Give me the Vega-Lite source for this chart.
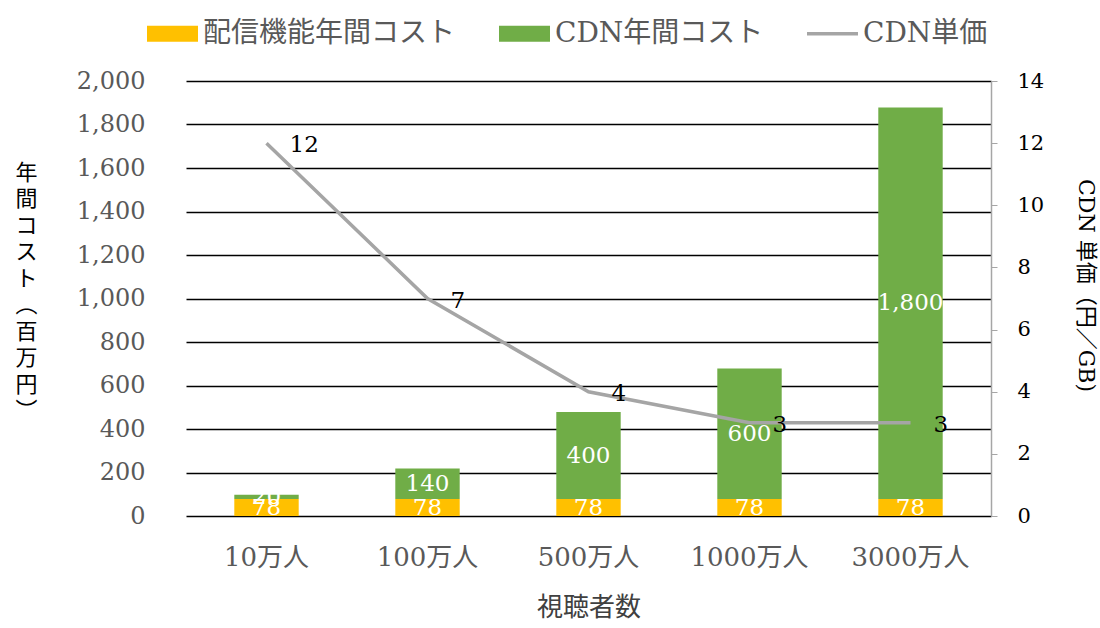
{
  "$schema": "https://vega.github.io/schema/vega-lite/v6.json",
  "autosize": "none",
  "width": 805,
  "height": 435,
  "padding": {"left": 186, "top": 81, "right": 109, "bottom": 112},
  "background": "white",
  "config": {
    "font": "DejaVu Serif, Noto Sans CJK JP",
    "view": {"stroke": null},
    "axis": {"labelFont": "DejaVu Serif, Noto Sans CJK JP", "titleFont": "DejaVu Serif, Noto Sans CJK JP", "titleFontWeight": "normal"},
    "legend": {"labelFont": "DejaVu Serif, Noto Sans CJK JP"}
  },
  "datasets": {
    "bars": [
      {"viewers": "10万人", "series": "配信機能年間コスト", "value": 78},
      {"viewers": "10万人", "series": "CDN年間コスト", "value": 20},
      {"viewers": "100万人", "series": "配信機能年間コスト", "value": 78},
      {"viewers": "100万人", "series": "CDN年間コスト", "value": 140},
      {"viewers": "500万人", "series": "配信機能年間コスト", "value": 78},
      {"viewers": "500万人", "series": "CDN年間コスト", "value": 400},
      {"viewers": "1000万人", "series": "配信機能年間コスト", "value": 78},
      {"viewers": "1000万人", "series": "CDN年間コスト", "value": 600},
      {"viewers": "3000万人", "series": "配信機能年間コスト", "value": 78},
      {"viewers": "3000万人", "series": "CDN年間コスト", "value": 1800}
    ],
    "price": [
      {"viewers": "10万人", "series": "CDN単価", "price": 12},
      {"viewers": "100万人", "series": "CDN単価", "price": 7},
      {"viewers": "500万人", "series": "CDN単価", "price": 4},
      {"viewers": "1000万人", "series": "CDN単価", "price": 3},
      {"viewers": "3000万人", "series": "CDN単価", "price": 3}
    ]
  },
  "encoding": {
    "x": {
      "field": "viewers",
      "type": "nominal",
      "sort": ["10万人", "100万人", "500万人", "1000万人", "3000万人"],
      "scale": {"paddingInner": 0.6, "paddingOuter": 0.3},
      "axis": {
        "title": "視聴者数",
        "labelAngle": 0,
        "labelFontSize": 26,
        "labelColor": "#595959",
        "labelPadding": 28,
        "ticks": false,
        "domain": false,
        "titleFontSize": 26,
        "titleColor": "#404040",
        "titlePadding": 24
      }
    }
  },
  "layer": [
    {
      "data": {"name": "bars"},
      "layer": [
        {
          "mark": {"type": "bar"},
          "encoding": {
            "y": {
              "field": "value",
              "type": "quantitative",
              "stack": "zero",
              "scale": {"domain": [0, 2000]},
              "axis": {
                "title": ["年", "間", "コ", "ス", "ト", "︵", "百", "万", "円", "︶"],
                "titleAngle": 0,
                "titleFontSize": 22,
                "titleLineHeight": 26.5,
                "titleColor": "black",
                "titleAlign": "center",
                "titleBaseline": "middle",
                "titleX": -160,
                "titleY": 91,
                "values": [0, 200, 400, 600, 800, 1000, 1200, 1400, 1600, 1800, 2000],
                "format": ",d",
                "labelFontSize": 24,
                "labelColor": "#595959",
                "labelPadding": 41,
                "ticks": false,
                "domain": false,
                "grid": true,
                "gridColor": "black",
                "gridWidth": 1.6
              }
            },
            "color": {
              "field": "series",
              "type": "nominal",
              "scale": {
                "domain": ["配信機能年間コスト", "CDN年間コスト", "CDN単価"],
                "range": ["#FFC000", "#70AD47", "#A5A5A5"]
              },
              "legend": {
                "title": null,
                "orient": "none",
                "direction": "horizontal",
                "legendX": -39,
                "legendY": -73,
                "labelFontSize": 28,
                "labelLimit": 0,
                "labelColor": "#595959",
                "labelOffset": 5,
                "columnPadding": 43,
                "symbolSize": 2601,
                "symbolStrokeWidth": 0,
                "symbolOpacity": 1,
                "encode": {
                  "symbols": {
                    "update": {
                      "shape": {"signal": "datum.value === 'CDN単価' ? 'M-1,-0.07H1V0.07H-1Z' : 'M-1,-0.31H1V0.31H-1Z'"},
                      "fill": {"signal": "scale('color', datum.value)"},
                      "strokeWidth": {"value": 0},
                      "opacity": {"value": 1}
                    }
                  }
                }
              }
            },
            "order": {"field": "series", "sort": "descending"}
          }
        },
        {
          "mark": {"type": "text", "color": "white", "fontSize": 23, "baseline": "middle"},
          "encoding": {
            "y": {"field": "value", "type": "quantitative", "stack": "zero", "bandPosition": 0.5},
            "detail": {"field": "series"},
            "order": {"field": "series", "sort": "descending"},
            "text": {"field": "value", "type": "quantitative", "format": ",d"}
          }
        }
      ]
    },
    {
      "data": {"name": "price"},
      "layer": [
        {
          "mark": {"type": "line", "strokeWidth": 3.5},
          "encoding": {
            "y": {
              "field": "price",
              "type": "quantitative",
              "scale": {"domain": [0, 14]},
              "axis": {
                "orient": "right",
                "title": "CDN 単価（円／GB)",
                "titleAngle": 90,
                "titleFontSize": 22,
                "titleColor": "black",
                "titleX": 94,
                "titleY": 204,
                "titleAlign": "center",
                "titleBaseline": "middle",
                "values": [0, 2, 4, 6, 8, 10, 12, 14],
                "labelFontSize": 21,
                "labelColor": "black",
                "labelPadding": 20,
                "tickSize": 6,
                "tickColor": "#A6A6A6",
                "domainColor": "#A6A6A6",
                "domainWidth": 1.5,
                "grid": false
              }
            },
            "color": {"field": "series", "type": "nominal"}
          }
        },
        {
          "mark": {"type": "text", "color": "black", "fontSize": 23, "align": "left", "baseline": "middle", "dx": 23, "dy": 2},
          "encoding": {
            "y": {"field": "price", "type": "quantitative"},
            "text": {"field": "price", "type": "quantitative"}
          }
        }
      ]
    }
  ],
  "resolve": {"scale": {"y": "independent"}}
}
